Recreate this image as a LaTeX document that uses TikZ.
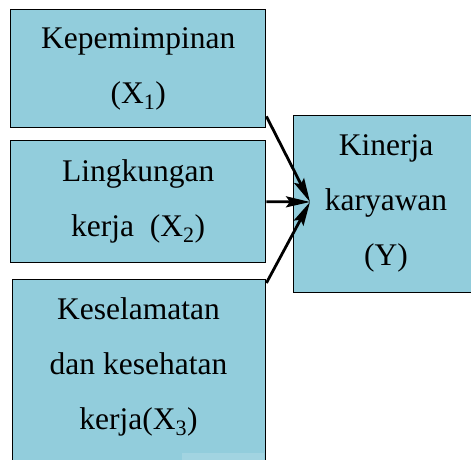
\documentclass[tikz,border=0pt]{standalone}
\usepackage{fontspec}
\setmainfont{Liberation Serif}
\usetikzlibrary{arrows.meta,calc}
\definecolor{boxblue}{RGB}{146,205,220}
\definecolor{boxpale}{RGB}{162,212,225}
\tikzset{
  box/.style={draw=black, line width=1.4pt, fill=boxblue, inner sep=0pt, anchor=north west},
  txt/.style={align=center, font=\fontsize{31.5}{55}\selectfont, inner sep=0pt},
  conn/.style={line width=2.8pt, -{Stealth[length=24pt,width=11pt,inset=4pt]}}
}
\begin{document}
\begin{tikzpicture}[x=1pt,y=-1pt]
\useasboundingbox (0,0) rectangle (471,460);
\clip (0,0) rectangle (471,460);
\node[box, minimum width=255pt, minimum height=118pt] (b1) at (10,9) {};
\node[txt] (t1) at (b1.center) {Kepemimpinan\\(X\textsubscript{1})};
\node[box, minimum width=255pt, minimum height=122pt] (b2) at (10,140) {};
\node[txt] (t2) at (b2.center) {Lingkungan\\kerja\ \ (X\textsubscript{2})};
\node[box, minimum width=253pt, minimum height=200pt] (b3) at (12,279) {};
\node[txt] (t3) at (138.5,367) {Keselamatan\\dan kesehatan\\kerja(X\textsubscript{3})};
\fill[boxpale] (182,453) rectangle (263.5,461);
\node[box, minimum width=186pt, minimum height=177pt] (b4) at (293,115) {};
\node[txt] (t4) at (386,203) {Kinerja\\karyawan\\(Y)};
\coordinate (tip) at (310,202);
\draw[conn] ($(b1.south east)+(0,-12)$) -- (tip);
\draw[conn] ($(b2.east)$) -- (tip);
\draw[conn] ($(b3.north east)+(0,4)$) -- (tip);
\end{tikzpicture}
\end{document}
